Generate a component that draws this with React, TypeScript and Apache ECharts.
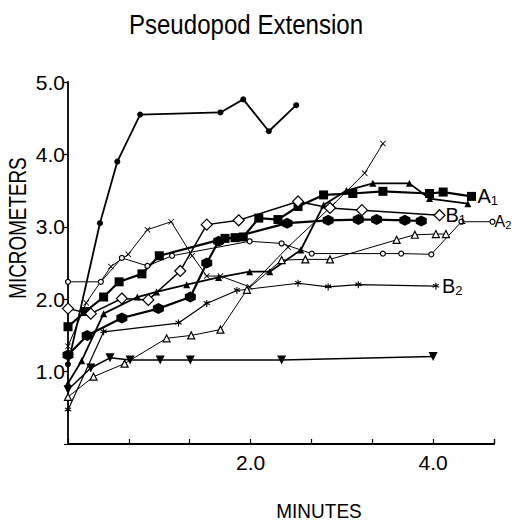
import { useEffect, useRef } from "react";
import * as echarts from "echarts";

const titleText = "Pseudopod Extension";
const xAxisName = "MINUTES";
const yAxisName = "MICROMETERS";
const xLabeledTicks = [2, 4];
const xMax = 14 / 3;
const xStep = 2 / 3;
const yMax = 5;
const yStep = 1;

// minutes, micrometers
const topCircles = [[0, 1.1], [0.35, 3.05], [0.54, 3.9], [0.79, 4.55], [1.67, 4.58], [1.92, 4.76], [2.2, 4.32], [2.5, 4.68]];
const thinCross = [[0, 1.35], [0.2, 1.95], [0.47, 2.45], [0.66, 2.62], [0.87, 2.96], [1.13, 3.07], [1.36, 2.6], [1.52, 2.32], [1.67, 2.32], [1.99, 2.17], [2.41, 2.72], [2.9, 3.3], [3.25, 3.74], [3.45, 4.15]];
const squaresA1 = [[0, 1.62], [0.19, 1.83], [0.39, 2.03], [0.56, 2.24], [0.81, 2.35], [1.0, 2.6], [1.72, 2.84], [1.83, 2.85], [1.92, 2.86], [2.09, 3.12], [2.3, 3.1], [2.52, 3.28], [2.8, 3.44], [3.12, 3.46], [3.45, 3.49], [3.96, 3.46], [4.11, 3.48], [4.42, 3.42]];
const filledTriangles = [[0, 0.84], [0.15, 1.15], [0.39, 1.8], [0.76, 2.03], [0.97, 2.1], [1.3, 2.2], [1.65, 2.3], [1.99, 2.38], [2.21, 2.38], [2.55, 2.68], [2.8, 3.3], [3.05, 3.5], [3.34, 3.6], [3.74, 3.6], [3.96, 3.39], [4.38, 3.32]];
const diamondsB1 = [[0, 1.87], [0.25, 1.8], [0.59, 2.01], [0.88, 1.99], [1.23, 2.39], [1.52, 3.03], [1.87, 3.09], [2.52, 3.35], [2.87, 3.26], [3.22, 3.23], [4.07, 3.16]];
const hexagons = [[0, 1.23], [0.21, 1.5], [0.59, 1.74], [0.99, 1.87], [1.34, 2.03], [1.52, 2.5], [1.65, 2.8], [2.4, 3.05], [2.85, 3.09], [3.18, 3.1], [3.38, 3.1], [3.69, 3.09], [3.87, 3.08]];
const circlesA2 = [[0, 2.24], [0.36, 2.24], [0.59, 2.57], [0.87, 2.46], [1.14, 2.6], [1.99, 2.8], [2.34, 2.77], [2.67, 2.63], [3.45, 2.63], [3.65, 2.63], [3.98, 2.62], [4.31, 3.07], [4.65, 3.07]];
const openTriangles = [[0, 0.65], [0.28, 0.93], [0.62, 1.11], [1.08, 1.46], [1.35, 1.5], [1.67, 1.58], [1.96, 2.13], [2.34, 2.54], [2.6, 2.55], [2.87, 2.55], [3.6, 2.82], [3.8, 2.89], [4.03, 2.9], [4.14, 2.9]];
const starsB2 = [[0, 0.47], [0.39, 1.55], [1.21, 1.67], [1.52, 1.94], [1.85, 2.12], [2.52, 2.22], [2.85, 2.17], [3.18, 2.2], [4.03, 2.18]];
const invTriangles = [[0, 0.75], [0.25, 1.05], [0.46, 1.19], [0.68, 1.16], [1.01, 1.16], [1.34, 1.16], [2.34, 1.16], [4.0, 1.21]];

const FONT = "'Liberation Sans', Arial, sans-serif";
const HEX = "path://M0,-1L0.866,-0.5L0.866,0.5L0,1L-0.866,0.5L-0.866,-0.5Z";
const CROSS = "path://M-1,-0.8L-0.8,-1L0,-0.2L0.8,-1L1,-0.8L0.2,0L1,0.8L0.8,1L0,0.2L-0.8,1L-1,0.8L-0.2,0Z";
const STAR = "path://M-0.15,-1L0.15,-1L0.15,-0.35L0.72,-0.72L0.9,-0.5L0.35,-0.1L0.95,0.2L0.85,0.45L0.15,0.2L0.15,1L-0.15,1L-0.15,0.2L-0.85,0.45L-0.95,0.2L-0.35,-0.1L-0.9,-0.5L-0.72,-0.72L-0.15,-0.35Z";

function endLab(main: string, sub: string, big = 20, small = 13, distance = 6) {
  return {
    show: true,
    distance,
    formatter: `{m|${main}}{s|${sub}}`,
    rich: {
      m: { fontFamily: FONT, fontSize: big, color: "#000" },
      s: { fontFamily: FONT, fontSize: small, color: "#000", padding: [Math.round(big * 0.45), 0, 0, 0] },
    },
  };
}

function line(data: number[][], opts: any) {
  const filled = opts.filled !== false;
  return {
    type: "line",
    data,
    symbol: opts.symbol,
    symbolSize: opts.size,
    symbolRotate: opts.rotate || 0,
    showAllSymbol: true,
    lineStyle: { color: "#000", width: opts.width },
    itemStyle: filled
      ? { color: "#000", borderColor: "#000", borderWidth: 0 }
      : { color: "#fff", borderColor: "#000", borderWidth: 1.2 },
    endLabel: opts.label || { show: false },
    z: filled ? 2 : 3,
    silent: true,
  };
}

export default function App() {
  const ref = useRef<HTMLDivElement>(null);
  useEffect(() => {
    if (!ref.current) return;
    const chart = echarts.init(ref.current, undefined, { renderer: "svg" });
    chart.setOption({
      animation: false,
      backgroundColor: "#fff",
      grid: { left: 68, top: 82, right: 22, bottom: 81 },
      xAxis: {
        type: "value",
        min: 0,
        max: xMax,
        interval: xStep,
        axisLine: { show: true, lineStyle: { color: "#000", width: 1.8 } },
        axisTick: { show: true, inside: true, length: 5, lineStyle: { color: "#000", width: 1.2 } },
        splitLine: { show: false },
        axisLabel: {
          color: "#000",
          fontFamily: FONT,
          fontSize: 21,
          margin: 8,
          showMaxLabel: true,
          formatter: (v: number) => (xLabeledTicks.some((t) => Math.abs(t - v) < 0.01) ? v.toFixed(1) : ""),
        },
      },
      yAxis: {
        type: "value",
        min: 0,
        max: yMax,
        interval: yStep,
        axisLine: { show: true, lineStyle: { color: "#000", width: 1.8 } },
        axisTick: { show: true, inside: false, length: 4, lineStyle: { color: "#000", width: 1.2 } },
        splitLine: { show: false },
        axisLabel: {
          color: "#000",
          fontFamily: FONT,
          fontSize: 21,
          margin: 3,
          formatter: (v: number) => (v === 0 ? "" : v.toFixed(1)),
        },
      },
      graphic: [
        {
          type: "text",
          x: 246,
          y: 24,
          scaleX: 0.86,
          style: { text: titleText, font: `28px ${FONT}`, fill: "#000", align: "center", verticalAlign: "middle" },
        },
        {
          type: "text",
          x: 18,
          y: 228,
          rotation: Math.PI / 2,
          scaleX: 0.82,
          style: { text: yAxisName, font: `23px ${FONT}`, fill: "#000", align: "center", verticalAlign: "middle" },
        },
        {
          type: "text",
          x: 319,
          y: 511,
          scaleX: 0.95,
          style: { text: xAxisName, font: `20px ${FONT}`, fill: "#000", align: "center", verticalAlign: "middle" },
        },
      ],
      series: [
        line(invTriangles, { symbol: "triangle", size: 9, rotate: 180, width: 1.5 }),
        line(starsB2, { symbol: STAR, size: 7, width: 1.2, label: endLab("B", "2") }),
        line(openTriangles, { symbol: "triangle", size: 7, width: 1, filled: false }),
        line(circlesA2, { symbol: "circle", size: 5, width: 1, filled: false, label: endLab("A", "2", 16, 11, 2) }),
        line(hexagons, { symbol: HEX, size: 11, width: 2.2 }),
        line(diamondsB1, { symbol: "diamond", size: 11, width: 1.5, filled: false, label: endLab("B", "1") }),
        line(filledTriangles, { symbol: "triangle", size: 7, width: 1.8 }),
        line(squaresA1, { symbol: "rect", size: 9, width: 2.2, label: endLab("A", "1") }),
        line(thinCross, { symbol: CROSS, size: 6, width: 1 }),
        line(topCircles, { symbol: "circle", size: 6, width: 1.8 }),
      ],
    });
    return () => chart.dispose();
  }, []);
  return <div ref={ref} style={{ position: "fixed", left: 0, top: 0, width: 516, height: 525, background: "#fff" }} />;
}
